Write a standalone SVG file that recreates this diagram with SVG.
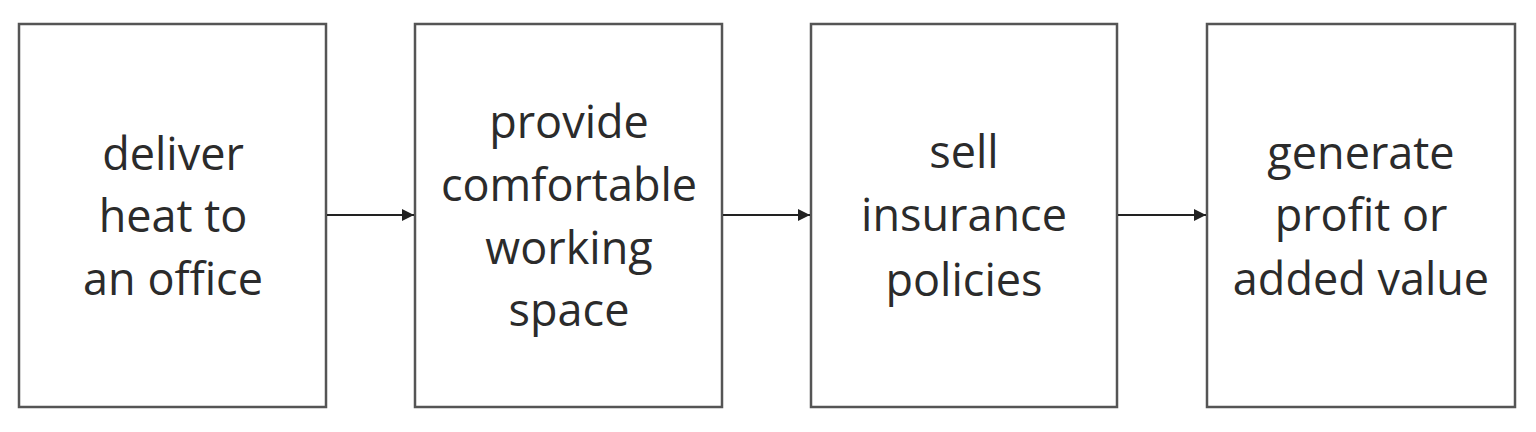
<svg xmlns="http://www.w3.org/2000/svg" width="1536" height="432" viewBox="0 0 1536 432">
<style>
.box{fill:#fff;stroke:#555;stroke-width:2.5}
.lbl{font-family:"Open Sans","Liberation Sans",sans-serif;font-size:45px;fill:#2b2b2b;text-anchor:middle}
.conn{stroke:#222;stroke-width:2;fill:none}
</style>
<defs>
<marker id="ah" viewBox="0 0 10 10" refX="10" refY="5" markerWidth="6" markerHeight="6" orient="auto" markerUnits="strokeWidth">
<path d="M0,0 L10,5 L0,10 z" fill="#222"/>
</marker>
</defs>
<rect width="1536" height="432" fill="#fff"/>
<g id="node1">
<rect class="box" x="19" y="24" width="307" height="383"/>
<text class="lbl" x="173"><tspan x="173" y="170">deliver</tspan><tspan x="173" y="232">heat to</tspan><tspan x="173" y="295">an office</tspan></text>
</g>
<g id="node2">
<rect class="box" x="415" y="24" width="307" height="383"/>
<text class="lbl" x="569"><tspan x="569" y="138">provide</tspan><tspan x="569" y="201">comfortable</tspan><tspan x="569" y="264">working</tspan><tspan x="569" y="326">space</tspan></text>
</g>
<g id="node3">
<rect class="box" x="811" y="24" width="306" height="383"/>
<text class="lbl" x="964"><tspan x="964" y="168">sell</tspan><tspan x="964" y="231">insurance</tspan><tspan x="964" y="296">policies</tspan></text>
</g>
<g id="node4">
<rect class="box" x="1207" y="24" width="308" height="383"/>
<text class="lbl" x="1361"><tspan x="1361" y="169">generate</tspan><tspan x="1361" y="231">profit or</tspan><tspan x="1361" y="295">added value</tspan></text>
</g>
<g id="connectors">
<line class="conn" x1="327" y1="215" x2="414" y2="215" marker-end="url(#ah)"/>
<line class="conn" x1="723" y1="215" x2="810" y2="215" marker-end="url(#ah)"/>
<line class="conn" x1="1118" y1="215" x2="1206" y2="215" marker-end="url(#ah)"/>
</g>
</svg>
